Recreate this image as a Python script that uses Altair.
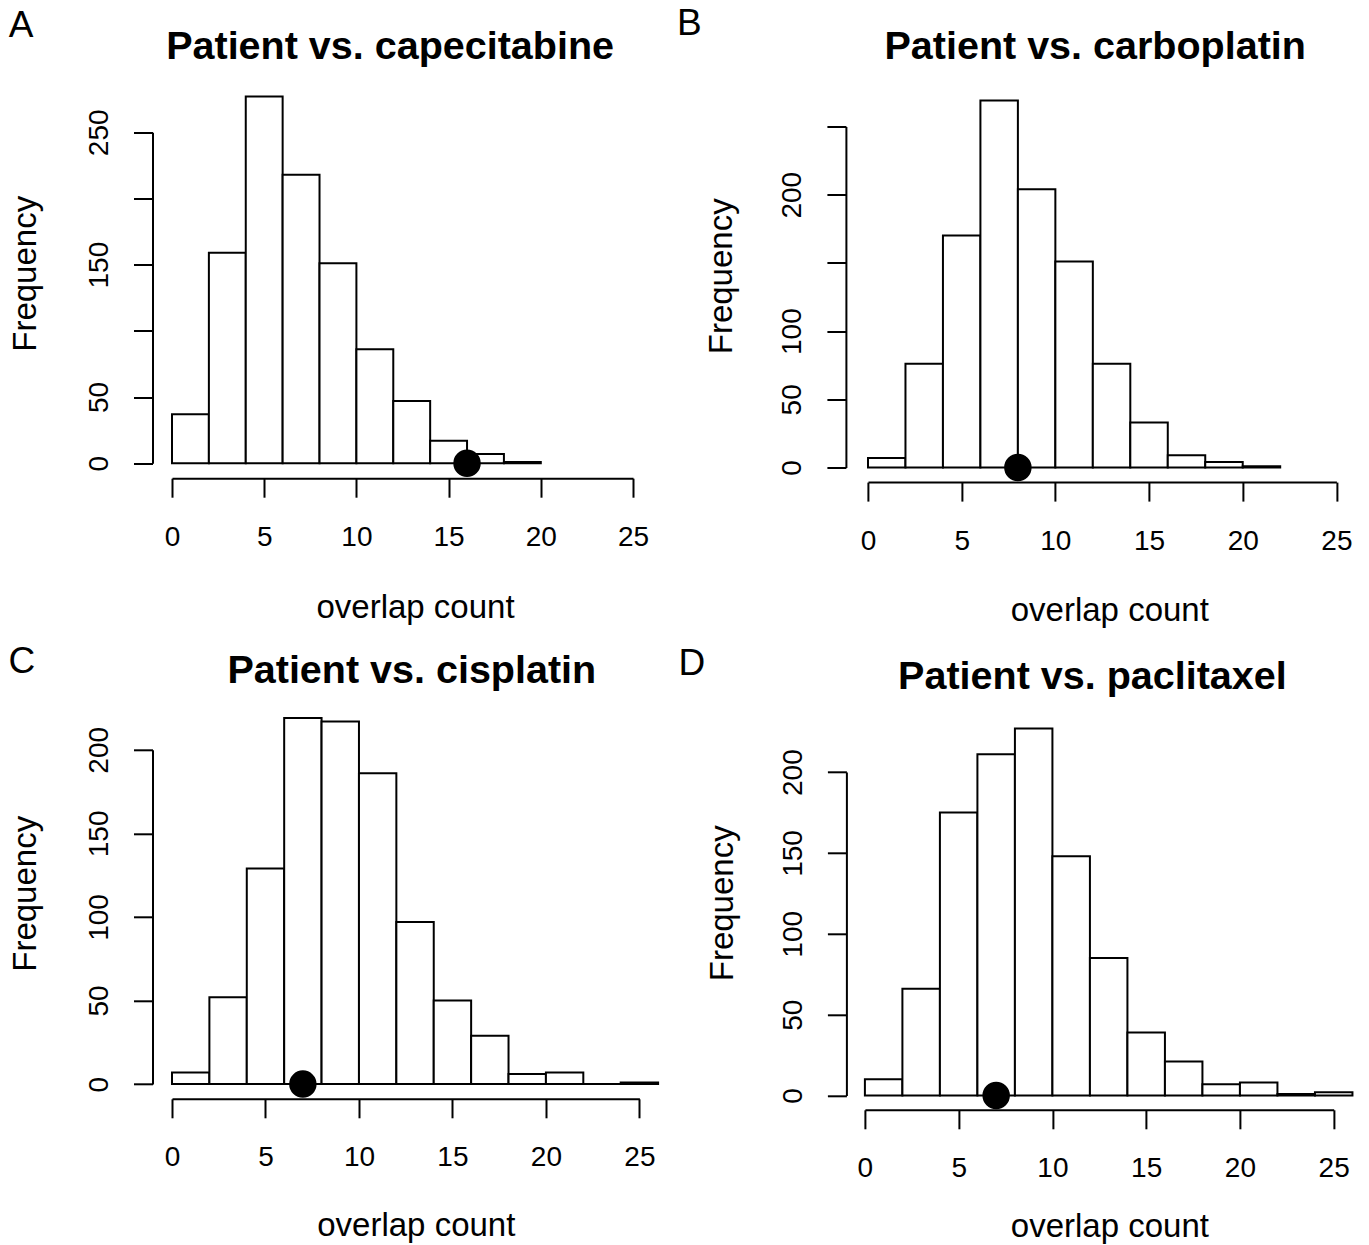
import altair as alt
import pandas as pd

# ---- data ----
bin_width = 2
counts_capecitabine = [37, 159, 277, 218, 151, 86, 47, 17, 7, 1]
counts_carboplatin = [7, 76, 170, 269, 204, 151, 76, 33, 9, 4, 1]
counts_cisplatin = [7, 52, 129, 219, 217, 186, 97, 50, 29, 6, 7, 0, 1]
counts_paclitaxel = [10, 66, 175, 211, 227, 148, 85, 39, 21, 7, 8, 1, 2]
observed = [16, 8, 7, 7]
titles = ["Patient vs. capecitabine", "Patient vs. carboplatin",
          "Patient vs. cisplatin", "Patient vs. paclitaxel"]
letters = ["A", "B", "C", "D"]
x_ticks = [0, 5, 10, 15, 20, 25]
y_ticks_ab = [0, 50, 100, 150, 200, 250]
y_ticks_cd = [0, 50, 100, 150, 200]
y_labels = [[0, 50, 150, 250], [0, 50, 100, 200],
            [0, 50, 100, 150, 200], [0, 50, 100, 150, 200]]

FONT = "Liberation Sans"


def panel(i, counts, ymax, yticks, g):
    df = pd.DataFrame({
        "start": [k * bin_width for k in range(len(counts))],
        "end": [(k + 1) * bin_width for k in range(len(counts))],
        "count": counts,
        "zero": [0] * len(counts),
    })
    x0 = g.get("xs", 0)
    xs = alt.Scale(domain=[0, 25], range=[x0, x0 + g["w"]], nice=False, zero=False)
    ys = alt.Scale(domain=[0, ymax], range=[g["h"], g["top"]], nice=False)
    keep = ",".join(str(v) for v in y_labels[i])
    xaxis = alt.Axis(values=x_ticks, tickSize=19, tickWidth=2, domainWidth=2,
                     domainColor="black", tickColor="black", grid=False,
                     labelFontSize=28, labelFont=FONT, labelColor="black",
                     labelPadding=26, labelFlush=False, labelOverlap=False,
                     offset=g["xoff"], title="overlap count", titleFont=FONT,
                     titleFontSize=33, titleFontWeight="normal", titleColor="black",
                     titleX=g["xtx"], titleY=g["xty"], titleAlign="center",
                     titleBaseline="alphabetic")
    yaxis = alt.Axis(values=yticks, tickSize=19, tickWidth=2, domainWidth=2,
                     domainColor="black", tickColor="black", grid=False,
                     labelFontSize=28, labelFont=FONT, labelColor="black",
                     labelAngle=270, labelAlign="center", labelBaseline="alphabetic",
                     labelPadding=26, labelFlush=False, labelOverlap=False,
                     labelExpr=f"indexof([{keep}], datum.value) >= 0 ? datum.label : ''",
                     offset=g["yoff"], title="Frequency", titleFont=FONT,
                     titleFontSize=33, titleFontWeight="normal", titleColor="black",
                     titleAngle=270, titleX=g["ytx"], titleY=g["yty"],
                     titleAlign="center", titleBaseline="alphabetic")
    bars = alt.Chart(df).mark_rect(fill="white", stroke="black", strokeWidth=2).encode(
        x=alt.X("start:Q", scale=xs, axis=xaxis),
        x2="end:Q",
        y=alt.Y("count:Q", scale=ys, axis=yaxis),
        y2="zero:Q",
    )
    dot_df = pd.DataFrame({"start": [observed[i]], "count": [0]})
    dot = alt.Chart(dot_df).mark_circle(size=755, color="black", opacity=1).encode(
        x=alt.X("start:Q", scale=xs, axis=xaxis),
        y=alt.Y("count:Q", scale=ys, axis=yaxis),
    )
    tdf = pd.DataFrame({"t": [titles[i]], "l": [letters[i]]})
    title = alt.Chart(tdf).mark_text(font=FONT, fontSize=39.5, fontWeight="bold",
                                     align="center", baseline="alphabetic",
                                     color="black").encode(
        x=alt.value(g["tx"] + x0), y=alt.value(g["ty"]), text="t:N")
    letter = alt.Chart(tdf).mark_text(font=FONT, fontSize=37, align="left",
                                      baseline="alphabetic", color="black").encode(
        x=alt.value(g["lx"] + x0), y=alt.value(g["ly"]), text="l:N")
    return alt.layer(bars, dot, title, letter).properties(
        width=x0 + g["w"], height=g["h"])


geoms = [
    dict(w=461, h=336.7, top=5.8, xoff=15, yoff=19.5, xtx=243, xty=139,
         ytx=-117, yty=146.8, tx=218.1, ty=-68, lx=-163.2, ly=-90),
    dict(w=468.4, h=341, top=0, xs=3.1, xoff=14.6, yoff=19, xtx=244.4, xty=138.7,
         ytx=-114.3, yty=149.3, tx=227.2, ty=-67.4, lx=-191, ly=-91.7),
    dict(w=467.4, h=334.3, top=0, xoff=14.7, yoff=19.5, xtx=243.8, xty=137,
         ytx=-117, yty=143.5, tx=239.8, ty=-66.7, lx=-163.5, ly=-77),
    dict(w=468.8, h=345.7, top=22.3, xoff=14.3, yoff=18.5, xtx=244.5, xty=126.7,
         ytx=-114, yty=153, tx=227.5, ty=-61, lx=-186.5, ly=-75),
]

pA = panel(0, counts_capecitabine, 250, y_ticks_ab, geoms[0])
pB = panel(1, counts_carboplatin, 250, y_ticks_ab, geoms[1])
pC = panel(2, counts_cisplatin, 200, y_ticks_cd, geoms[2])
pD = panel(3, counts_paclitaxel, 200, y_ticks_cd, geoms[3])

chart = alt.ConcatChart(
    concat=[pA, pB, pC, pD], columns=2, align="each", bounds="flush",
    spacing=alt.RowColnumber(row=282.3, column=224.9),
).properties(
    padding={"left": 0, "top": -3.5, "right": 0, "bottom": 0},
    background="white",
).configure(
    font=FONT
).configure_view(strokeWidth=0, stroke="transparent")

chart.save("out.html", embed_options={"renderer": "svg", "actions": False})
